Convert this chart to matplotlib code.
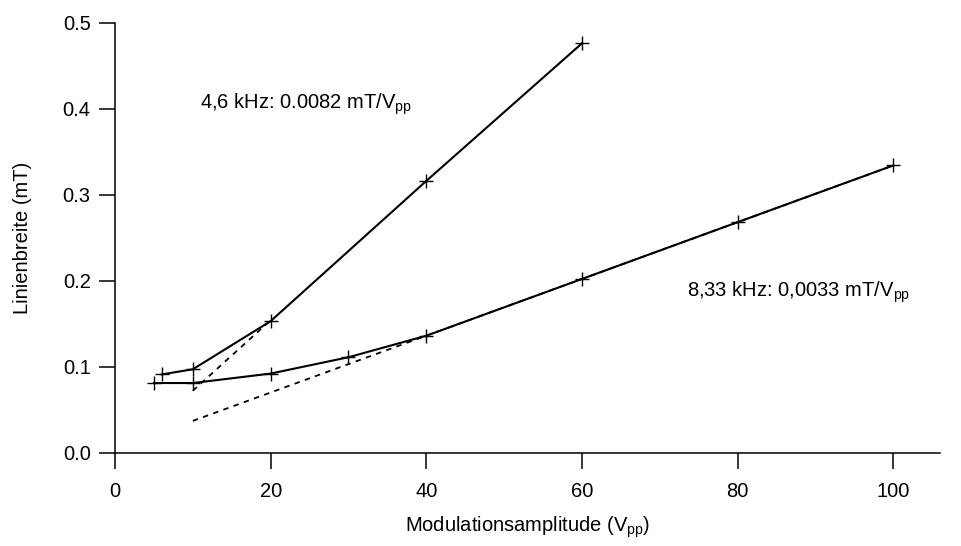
import matplotlib
matplotlib.use("Agg")
import matplotlib.pyplot as plt

plt.rcParams['font.family'] = ['Liberation Sans', 'DejaVu Sans']
plt.rcParams['mathtext.fontset'] = 'custom'
plt.rcParams['mathtext.rm'] = 'Liberation Sans'

# 4,6 kHz series
x1 = [6, 10, 20, 40, 60]
y1 = [0.091, 0.097, 0.153, 0.316, 0.476]
# 8,33 kHz series
x2 = [5, 10, 20, 30, 40, 60, 80, 100]
y2 = [0.081, 0.081, 0.092, 0.111, 0.136, 0.202, 0.268, 0.334]
# linear fits (dashed)
fit1_x = [10, 20]
fit1_y = [0.072, 0.154]
fit2_x = [10, 100]
fit2_y = [0.037, 0.334]

xticks = [0, 20, 40, 60, 80, 100]
yticks = [0.0, 0.1, 0.2, 0.3, 0.4, 0.5]

fig = plt.figure(figsize=(9.61, 5.46), dpi=100)
ax = fig.add_axes([0.1197, 0.1709, 0.978 - 0.1197, 0.9584 - 0.1709])

ax.plot(x1, y1, color='black', lw=1.5, marker='+', ms=9.5, mew=1.0)
ax.plot(x2, y2, color='black', lw=1.5, marker='+', ms=9.5, mew=1.0)
ax.plot(fit1_x, fit1_y, color='black', lw=1.3, ls=(0, (3, 3)))
ax.plot(fit2_x, fit2_y, color='black', lw=1.3, ls=(0, (3, 3)))

ax.set_xlim(0, 106)
ax.set_ylim(0, 0.5)
ax.set_xticks(xticks)
ax.set_yticks(yticks)
ax.set_xticklabels([str(t) for t in xticks])
ax.set_yticklabels([f"{t:.1f}" for t in yticks])

for s in ['top', 'right']:
    ax.spines[s].set_visible(False)
for s in ['left', 'bottom']:
    ax.spines[s].set_linewidth(1.1)
ax.tick_params(direction='out', length=11.5, width=1.1, labelsize=14.5)
ax.tick_params(axis='x', pad=9.5)
ax.tick_params(axis='y', pad=6)

ax.set_xlabel(r'Modulationsamplitude (V$_\mathregular{pp}$)', fontsize=14.5, labelpad=10)
ax.set_ylabel('Linienbreite (mT)', fontsize=14.5, labelpad=22)

ax.text(10.9, 0.405, r'4,6 kHz: 0.0082 mT/V$_\mathregular{pp}$', fontsize=14.5, va='center', ha='left')
ax.text(73.5, 0.186, r'8,33 kHz: 0,0033 mT/V$_\mathregular{pp}$', fontsize=14.5, va='center', ha='left')

fig.savefig('out.png', dpi=100)
